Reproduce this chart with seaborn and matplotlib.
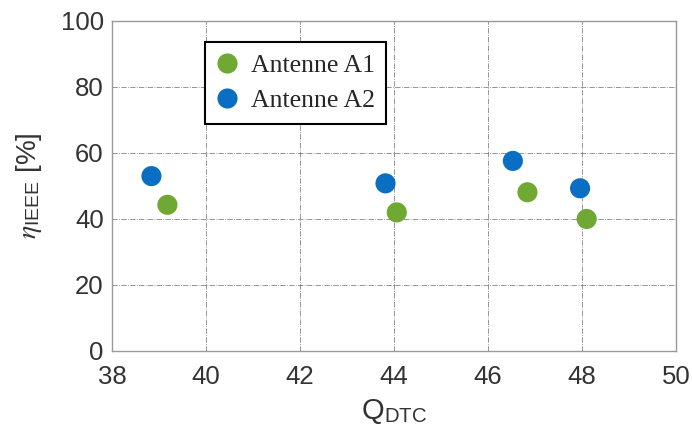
"""Efficiency versus quality factor for two antennas."""
import matplotlib.pyplot as plt
import seaborn as sns
import pandas as pd

# values
q_a1 = [39.18, 44.06, 46.84, 48.10]
eta_a1 = [44.3, 42.0, 48.1, 40.0]
q_a2 = [38.84, 43.82, 46.53, 47.96]
eta_a2 = [53.0, 50.8, 57.6, 49.3]
labels = ['Antenne A1', 'Antenne A2']

df = pd.DataFrame({
    'Q': q_a1 + q_a2,
    'eta': eta_a1 + eta_a2,
    'antenna': [labels[0]] * len(q_a1) + [labels[1]] * len(q_a2),
})

sns.set_style('white')
plt.rcParams['font.family'] = ['Liberation Sans', 'DejaVu Sans']
plt.rcParams['mathtext.fontset'] = 'stix'  # serif italic eta

fig = plt.figure(figsize=(6.92, 4.4), dpi=100)
ax = fig.add_axes([0.1618, 0.2023, 0.815, 0.75])

sns.scatterplot(data=df, x='Q', y='eta', hue='antenna', hue_order=labels,
                palette=['#6fa832', '#0a6fc2'], s=210, linewidth=0, ax=ax)

ax.set_xlim(38, 50)
ax.set_ylim(0, 100)
ax.set_xticks(range(38, 51, 2))
ax.set_yticks(range(0, 101, 20))
ax.tick_params(labelsize=18.5, length=0, colors='#333333')
ax.tick_params(axis='x', pad=10)
ax.tick_params(axis='y', pad=6)
ax.grid(True, color='#666666', linestyle='-.', linewidth=0.6, alpha=0.8)
for sp in ax.spines.values():
    sp.set_color('#999999')
    sp.set_linewidth(1.0)

ax.set_xlabel(r'Q$_{\mathregular{DTC}}$', fontsize=21, labelpad=6,
              color='#333333')
ax.set_ylabel(r'$\eta_{\mathregular{IEEE}}$ [%]', fontsize=20, labelpad=12,
              color='#333333')

leg = ax.legend(loc='upper left', bbox_to_anchor=(0.165, 0.936),
                borderaxespad=0,
                prop={'family': 'Liberation Serif', 'size': 18.5},
                frameon=True, fancybox=False, edgecolor='black',
                handlelength=0.8, handletextpad=0.52, borderpad=0.45,
                labelspacing=0.48, markerscale=1.0)
leg.get_frame().set_linewidth(1.5)
leg.get_frame().set_alpha(1)

fig.savefig('out.png', dpi=100)
